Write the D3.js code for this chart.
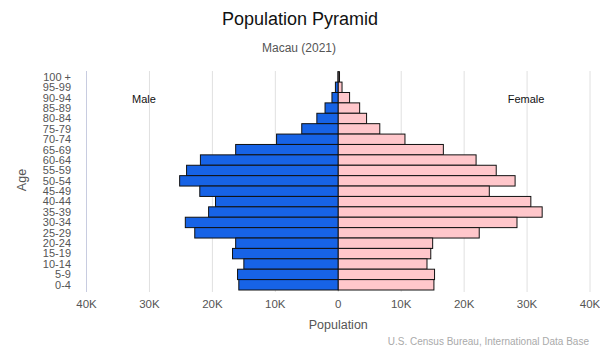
<!DOCTYPE html>
<html><head><meta charset="utf-8">
<script src="https://cdn.jsdelivr.net/npm/d3@7"></script>
<style>body{margin:0;background:#fff}svg{font-family:"Liberation Sans",Arial,sans-serif}</style>
</head><body><svg id="c" width="600" height="350"></svg>
<script>
const ageGroups = ["100 +","95-99","90-94","85-89","80-84","75-79","70-74","65-69","60-64","55-59","50-54","45-49","40-44","35-39","30-34","25-29","20-24","15-19","10-14","5-9","0-4"];
const male =   [0.05,0.45,1.0,2.1,3.4,5.8,9.8,16.3,21.9,24.1,25.2,22.0,19.5,20.6,24.3,22.8,16.3,16.8,15.0,16.0,15.8].map(v=>v*1000);
const female = [0.2,0.6,1.8,3.4,4.5,6.6,10.6,16.7,21.9,25.1,28.1,24.0,30.6,32.4,28.4,22.4,15.0,14.7,14.1,15.3,15.2].map(v=>v*1000);
const xTicks = [-40000,-30000,-20000,-10000,0,10000,20000,30000,40000];

const svg = d3.select("#c");
const x = d3.scaleLinear().domain([-40000,40000]).range([86.5,590]);
const y = d3.scaleBand().domain(ageGroups).range([71.7,290]).padding(0);

// grid
svg.append("g").selectAll("line").data(xTicks).join("line")
  .attr("x1",d=>x(d)).attr("x2",d=>x(d)).attr("y1",71).attr("y2",292)
  .attr("stroke",d=>d===-40000?"#c8cce0":"#e0e0e0").attr("stroke-width",1);

// bars
svg.append("g").selectAll("rect").data(ageGroups).join("rect")
  .attr("x",(d,i)=>x(-male[i])).attr("width",(d,i)=>x(0)-x(-male[i]))
  .attr("y",d=>y(d)).attr("height",y.bandwidth())
  .attr("fill","#1763e6").attr("stroke","#111").attr("stroke-width",1);
svg.append("g").selectAll("rect").data(ageGroups).join("rect")
  .attr("x",x(0)).attr("width",(d,i)=>x(female[i])-x(0))
  .attr("y",d=>y(d)).attr("height",y.bandwidth())
  .attr("fill","#ffc7cb").attr("stroke","#111").attr("stroke-width",1);

// y labels
svg.append("g").selectAll("text").data(ageGroups).join("text")
  .attr("x",71).attr("y",d=>y(d)+y.bandwidth()/2).attr("dy","0.35em")
  .attr("text-anchor","end").attr("font-size",11).attr("fill","#555").text(d=>d);

// x labels
svg.append("g").selectAll("text").data(xTicks).join("text")
  .attr("x",d=>x(d)).attr("y",308).attr("text-anchor","middle")
  .attr("font-size",11.5).attr("fill","#555")
  .text(d=>d===0?"0":Math.abs(d/1000)+"K");

svg.append("text").attr("x",300).attr("y",25).attr("text-anchor","middle").attr("font-size",18).attr("fill","#111").text("Population Pyramid");
svg.append("text").attr("x",299).attr("y",52).attr("text-anchor","middle").attr("font-size",12).attr("fill","#555").text("Macau (2021)");
svg.append("text").attr("x",x(0)).attr("y",329).attr("text-anchor","middle").attr("font-size",12.5).attr("fill","#555").text("Population");
svg.append("text").attr("transform","translate(26,180) rotate(-90)").attr("text-anchor","middle").attr("font-size",12.5).attr("fill","#555").text("Age");
svg.append("text").attr("x",144).attr("y",103).attr("text-anchor","middle").attr("font-size",11).attr("fill","#111").text("Male");
svg.append("text").attr("x",526).attr("y",103).attr("text-anchor","middle").attr("font-size",11).attr("fill","#111").text("Female");
svg.append("text").attr("x",589).attr("y",345).attr("text-anchor","end").attr("font-size",10).attr("fill","#aaa").text("U.S. Census Bureau, International Data Base");
</script></body></html>
